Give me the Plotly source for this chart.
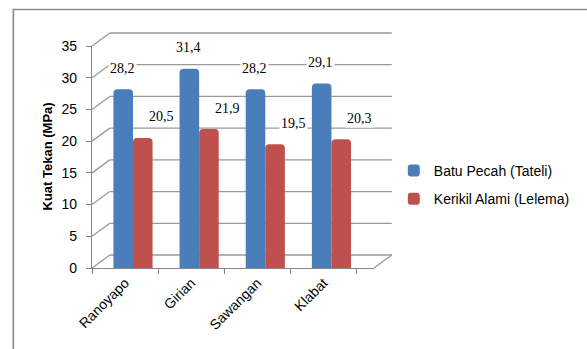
import plotly.graph_objects as go

# ---- data ----
categories = ["Ranoyapo", "Girian", "Sawangan", "Klabat"]
batu_pecah = [28.2, 31.4, 28.2, 29.1]
kerikil_alami = [20.5, 21.9, 19.5, 20.3]
series_names = ["Batu Pecah (Tateli)", "Kerikil Alami (Lelema)"]
y_ticks = [0, 5, 10, 15, 20, 25, 30, 35]
y_title = "Kuat Tekan (MPa)"

# ---- layout geometry ----
W, H = 587, 349
L, R, T, B = 92, 210, 46, 81
PW, PH = W - L - R, H - T - B
YMIN, YMAX = 0, 35
DX = 18 / PW          # depth offset of back wall (paper units)
DY = 13 / PH

GRID = "#9a9a9a"
AXIS = "#868686"
SANS = "Liberation Sans, Arial, sans-serif"
SERIF = "Liberation Serif, Times New Roman, serif"


def px_x(p):
    return (p - L) / PW


def px_y(p):
    return (H - B - p) / PH


def fmt(v):
    return f"{v:.1f}".replace(".", ",")


fig = go.Figure()
fig.add_bar(x=categories, y=batu_pecah, name=series_names[0],
            marker=dict(color="#4A7EBB", line=dict(width=0), cornerradius=4),
            offset=-0.176, width=0.296, legendgroup="g1")
fig.add_bar(x=categories, y=kerikil_alami, name=series_names[1],
            marker=dict(color="#C0504D", line=dict(width=0), cornerradius=4),
            offset=0.12, width=0.296, legendgroup="g2")

shapes = []
# back wall gridlines + diagonal connectors (pseudo 3D)
for v in y_ticks:
    yf = (v - YMIN) / (YMAX - YMIN)
    shapes.append(dict(type="line", xref="paper", yref="paper", layer="below",
                       x0=0, y0=yf, x1=DX, y1=yf + DY,
                       line=dict(color=GRID, width=1.3)))
    shapes.append(dict(type="line", xref="paper", yref="paper", layer="below",
                       x0=DX, y0=yf + DY, x1=1 + DX, y1=yf + DY,
                       line=dict(color=GRID, width=1.3)))
# right floor edge
shapes.append(dict(type="line", xref="paper", yref="paper", layer="below",
                   x0=1, y0=0, x1=1 + DX, y1=DY,
                   line=dict(color=GRID, width=1.3)))
# outer chart border
shapes.append(dict(type="rect", xref="paper", yref="paper", layer="below",
                   x0=px_x(12.5), y0=px_y(400), x1=px_x(640), y1=px_y(9.5),
                   line=dict(color="#8c8c8c", width=1.6)))

annotations = []
for c, v in zip(categories, batu_pecah):
    annotations.append(dict(x=c, y=v, xref="x", yref="y", text=fmt(v),
                            showarrow=False, xshift=-3, yshift=21,
                            bgcolor="white", borderpad=1,
                            font=dict(family=SERIF, size=14, color="#000")))
for c, v in zip(categories, kerikil_alami):
    annotations.append(dict(x=c, y=v, xref="x", yref="y", text=fmt(v),
                            showarrow=False, xshift=36, yshift=21,
                            bgcolor="white", borderpad=1,
                            font=dict(family=SERIF, size=14, color="#000")))
annotations.append(dict(x=px_x(47), y=px_y(156), xref="paper", yref="paper",
                        xanchor="center", yanchor="middle",
                        text=f"<b>{y_title}</b>", textangle=-90, showarrow=False,
                        font=dict(family=SANS, size=13, color="#000")))

fig.update_layout(
    width=W, height=H,
    margin=dict(l=L, r=R, t=T, b=B, pad=0),
    paper_bgcolor="white", plot_bgcolor="rgba(0,0,0,0)",
    barmode="overlay",
    showlegend=True,
    legend=dict(x=px_x(397), y=px_y(185), xanchor="left", yanchor="middle",
                traceorder="grouped", tracegroupgap=7,
                font=dict(family=SANS, size=14, color="#000"),
                bgcolor="rgba(0,0,0,0)"),
    shapes=shapes,
    annotations=annotations,
    xaxis=dict(showline=True, linecolor=AXIS, linewidth=1.3,
               ticks="outside", tickson="boundaries", ticklen=5,
               tickcolor=AXIS, tickwidth=1.3, tickangle=-45,
               showgrid=False, zeroline=False,
               tickfont=dict(family=SANS, size=14, color="#000")),
    yaxis=dict(range=[YMIN, YMAX], tickvals=y_ticks, showline=True,
               linecolor=AXIS, linewidth=1.3, ticks="outside", ticklen=5,
               tickcolor=AXIS, tickwidth=1.3, showgrid=False, zeroline=False,
               ticklabelstandoff=6,
               tickfont=dict(family=SANS, size=14, color="#000")),
    font=dict(family=SANS),
)

fig.write_html("out.html")
